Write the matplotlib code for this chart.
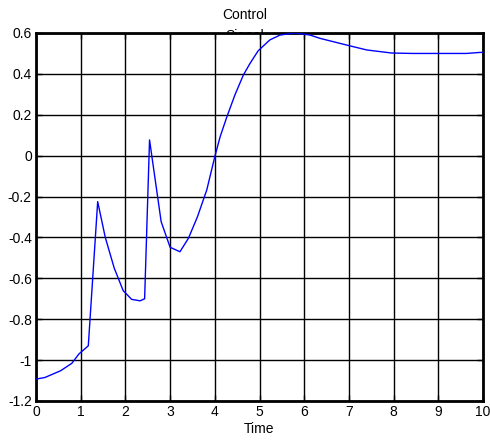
import matplotlib

matplotlib.use("Agg")

import matplotlib.pyplot as plt

# control signal samples
time = [0.0, 0.2, 0.55, 0.8, 0.96, 1.17, 1.38, 1.55, 1.75, 1.95, 2.14, 2.33,
        2.43, 2.54, 2.8, 3.0, 3.22, 3.41, 3.61, 3.82, 4.0, 4.12, 4.27, 4.45,
        4.64, 4.79, 4.97, 5.23, 5.46, 5.79, 6.13, 6.35, 6.95, 7.4, 7.96,
        8.43, 9.63, 9.93, 10.0]
control = [-1.093, -1.085, -1.052, -1.016, -0.97, -0.93, -0.225, -0.40,
           -0.55, -0.66, -0.703, -0.71, -0.70, 0.077, -0.323, -0.448, -0.47,
           -0.404, -0.30, -0.168, -0.005, 0.093, 0.19, 0.297, 0.395, 0.452,
           0.513, 0.566, 0.59, 0.60, 0.59, 0.574, 0.541, 0.517, 0.502, 0.50,
           0.50, 0.505, 0.505]

x_ticks = list(range(0, 11))
y_ticks = [-1.2, -1.0, -0.8, -0.6, -0.4, -0.2, 0.0, 0.2, 0.4, 0.6]
y_labels = ["-1.2", "-1", "-0.8", "-0.6", "-0.4", "-0.2", "0", "0.2", "0.4", "0.6"]

plt.rcParams["font.family"] = ["Liberation Sans", "DejaVu Sans"]

fig = plt.figure(figsize=(4.9, 4.41), dpi=100)
ax = fig.add_axes([36 / 490, 1 - 401 / 441, 447 / 490, 368 / 441])

ax.plot(time, control, color="#0000ff", linewidth=1.0, zorder=3)

ax.set_xlim(0, 10)
ax.set_ylim(-1.2, 0.6)
ax.set_xticks(x_ticks)
ax.set_yticks(y_ticks)
ax.set_yticklabels(y_labels)
ax.tick_params(direction="in", length=4, width=1, labelsize=10, pad=3,
               top=True, right=True)
ax.grid(True, color="black", linestyle="-", linewidth=1.0)
for spine in ax.spines.values():
    spine.set_linewidth(2.0)

ax.set_xlabel("Time", fontsize=10, labelpad=2)

# title: second line is mostly hidden behind the axes, as in the original
fig.text(0.5, 1 - 8 / 441, "Control", ha="center", va="top", fontsize=10)
fig.text(0.5, 1 - 29 / 441, "Signal", ha="center", va="top",
         fontsize=10, zorder=-1)

fig.savefig("out.png", dpi=100)
